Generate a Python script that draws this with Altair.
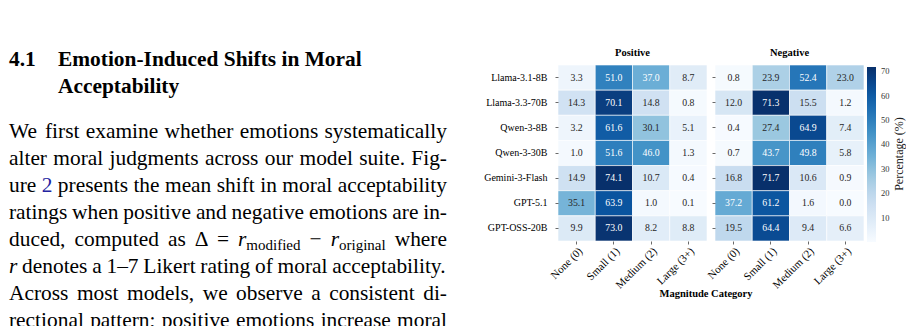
import re
import altair as alt
import numpy as np
import pandas as pd

SERIF = "Liberation Serif"

# ---------------- data ----------------
models = ["Llama-3.1-8B", "Llama-3.3-70B", "Qwen-3-8B", "Qwen-3-30B",
          "Gemini-3-Flash", "GPT-5.1", "GPT-OSS-20B"]
categories = ["None (0)", "Small (1)", "Medium (2)", "Large (3+)"]
positive_pct = [
    [3.3, 51.0, 37.0, 8.7],
    [14.3, 70.1, 14.8, 0.8],
    [3.2, 61.6, 30.1, 5.1],
    [1.0, 51.6, 46.0, 1.3],
    [14.9, 74.1, 10.7, 0.4],
    [35.1, 63.9, 1.0, 0.1],
    [9.9, 73.0, 8.2, 8.8],
]
negative_pct = [
    [0.8, 23.9, 52.4, 23.0],
    [12.0, 71.3, 15.5, 1.2],
    [0.4, 27.4, 64.9, 7.4],
    [0.7, 43.7, 49.8, 5.8],
    [16.8, 71.7, 10.6, 0.9],
    [37.2, 61.2, 1.6, 0.0],
    [19.5, 64.4, 9.4, 6.6],
]
panel_titles = ["Positive", "Negative"]
colorbar_ticks = [10, 20, 30, 40, 50, 60, 70]
x_axis_title = "Magnitude Category"
colorbar_title = "Percentage (%)"

section_number = "4.1"
section_title = ["Emotion-Induced Shifts in Moral", "Acceptability"]
body_lines = [
    "We first examine whether emotions systematically",
    "alter moral judgments across our model suite. Fig-",
    "ure [2] presents the mean shift in moral acceptability",
    "ratings when positive and negative emotions are in-",
    "duced, computed as Δ = *r*_modified_ − *r*_original_ where",
    "*r* denotes a 1–7 Likert rating of moral acceptability.",
    "Across most models, we observe a consistent di-",
    "rectional pattern; positive emotions increase moral",
]

BLUES = ["#f7fbff", "#deebf7", "#c6dbef", "#9ecae1", "#6baed6",
         "#4292c6", "#2171b5", "#08519c", "#08306b"]

# ---------------- text layout helpers (Times metrics, per 1000 em) ----------------
_W = {}
_W.update(dict(zip("ABCDEFGHIJKLMNOPQRSTUVWXYZ",
                   [722, 667, 667, 722, 611, 556, 722, 722, 333, 389, 722, 611, 889,
                    722, 722, 556, 722, 667, 556, 611, 722, 722, 944, 722, 722, 611])))
_W.update(dict(zip("abcdefghijklmnopqrstuvwxyz",
                   [444, 500, 444, 500, 444, 333, 500, 500, 278, 278, 500, 278, 778,
                    500, 500, 500, 500, 333, 389, 278, 500, 500, 722, 500, 500, 444])))
_W.update({c: 500 for c in "0123456789"})
_W.update({" ": 250, ",": 250, ".": 250, "-": 333, ";": 278, ":": 278, "(": 333,
           ")": 333, "%": 833, "–": 500, "Δ": 612, "=": 564, "−": 564})
_WI = {"r": 389}


def text_w(t, size, style="reg"):
    tab = _WI if style == "italic" else {}
    return sum(tab.get(c, _W.get(c, 500)) for c in t) * size / 1000.0


BODY_SIZE = 21.4
SUB_SIZE = 15
PANEL_TOP = 65
LEFT, RIGHT = 8, 446
FIRST_BASE, LINE_STEP = 137.5, 27.1

rows = []
for i, line in enumerate(body_lines):
    base_y = FIRST_BASE + LINE_STEP * i - PANEL_TOP
    toks = line.split(" ")
    tok_pieces = []
    for tok in toks:
        pieces = []
        for it, sub, blue, plain in re.findall(r"\*([^*]+)\*|_([^_]+)_|\[([^\]]+)\]|([^*_\[\]]+)", tok):
            if it:
                pieces.append((it, "italic", BODY_SIZE))
            elif sub:
                pieces.append((sub, "sub", SUB_SIZE))
            elif blue:
                pieces.append((blue, "blue", BODY_SIZE))
            else:
                pieces.append((plain, "reg", BODY_SIZE))
        tok_pieces.append(pieces)
    widths = [sum(text_w(t, s, st) for t, st, s in p) for p in tok_pieces]
    gap = (RIGHT - LEFT - sum(widths)) / (len(toks) - 1)
    x = LEFT
    for p, w in zip(tok_pieces, widths):
        px = x
        for t, st, s in p:
            rows.append({"text": t, "style": st, "x": px,
                         "y": base_y + (4.5 if st == "sub" else 0)})
            px += text_w(t, s, st)
        x += w + gap

rows.append({"text": section_number, "style": "bold", "x": 8, "y": 66 - PANEL_TOP})
rows.append({"text": section_title[0], "style": "bold", "x": 57, "y": 66 - PANEL_TOP})
rows.append({"text": section_title[1], "style": "bold", "x": 57, "y": 93 - PANEL_TOP})
text_df = pd.DataFrame(rows)


def text_layer(style, size, color="black", italic=False, bold=False, clip=True):
    mk = dict(align="left", baseline="alphabetic", font=SERIF, fontSize=size, color=color)
    if italic:
        mk["fontStyle"] = "italic"
    if bold:
        mk["fontWeight"] = "bold"
    if clip:
        mk["clip"] = True
    return (alt.Chart(text_df)
            .transform_filter(f"datum.style == '{style}'")
            .mark_text(**mk)
            .encode(x=alt.X("x:Q", scale=None, axis=None),
                    y=alt.Y("y:Q", scale=None, axis=None),
                    text="text:N"))


text_panel = alt.layer(
    text_layer("reg", BODY_SIZE),
    text_layer("italic", BODY_SIZE, italic=True),
    text_layer("sub", SUB_SIZE),
    text_layer("blue", BODY_SIZE, color="#2323a0"),
    text_layer("bold", BODY_SIZE, bold=True, clip=False),
).properties(width=549, height=261)

# ---------------- heatmaps ----------------
CELL_W, CELL_H = 149, 176


def heatmap(values, title, show_labels, legend, extra):
    df = pd.DataFrame([{"model": m, "cat": c, "pct": values[i][j]}
                       for i, m in enumerate(models) for j, c in enumerate(categories)])
    vmax = float(np.max(values))
    base = alt.Chart(df).encode(
        x=alt.X("cat:N", sort=categories,
                scale=alt.Scale(paddingInner=0, paddingOuter=0),
                axis=alt.Axis(title=None, labelAngle=-45, labelAlign="right",
                              labelBaseline="top", labelFont=SERIF, labelFontSize=11,
                              labelColor="black", tickSize=3, tickColor="#444",
                              tickWidth=0.8, domain=False, labelPadding=1)),
        y=alt.Y("model:N", sort=models,
                scale=alt.Scale(paddingInner=0, paddingOuter=0),
                axis=alt.Axis(title=None, labels=show_labels, labelFont=SERIF,
                              labelFontSize=10, labelColor="black", tickSize=3,
                              tickColor="#444", tickWidth=0.8, domain=False,
                              labelPadding=8)),
    )
    rect = base.mark_rect(stroke="white", strokeWidth=0.6).encode(
        color=alt.Color("pct:Q",
                        scale=alt.Scale(domain=list(np.linspace(0, vmax, len(BLUES))),
                                        range=BLUES),
                        legend=legend))
    txt = base.mark_text(font=SERIF, fontSize=9.8, baseline="middle").encode(
        text=alt.Text("pct:Q", format=".1f"),
        color=alt.condition("datum.pct > 36", alt.value("white"), alt.value("#262626")))
    return alt.layer(rect, txt, *extra).properties(
        width=CELL_W, height=CELL_H,
        title=alt.TitleParams(title, font=SERIF, fontSize=10.5, fontWeight="bold",
                              color="black", anchor="middle", frame="group", offset=6))


one = pd.DataFrame({"t": [x_axis_title]})
xtitle = alt.Chart(one).mark_text(font=SERIF, fontSize=10.5, fontWeight="bold",
                                  color="black", baseline="middle").encode(
    text="t:N", x=alt.value(148), y=alt.value(229))
one2 = pd.DataFrame({"t": [colorbar_title]})
ctitle = alt.Chart(one2).mark_text(font=SERIF, fontSize=12, color="#222",
                                   baseline="middle", angle=270).encode(
    text="t:N", x=alt.value(184), y=alt.value(89))

legend = alt.Legend(orient="none", legendX=152, legendY=2, direction="vertical",
                    gradientLength=175, gradientThickness=9, title=None,
                    values=colorbar_ticks, labelFont=SERIF, labelFontSize=8.5,
                    labelColor="#333", labelOffset=5, gradientStrokeWidth=0, padding=0)

pos = heatmap(positive_pct, panel_titles[0], True, None, [xtitle])
neg = heatmap(negative_pct, panel_titles[1], False, legend, [ctitle])

chart = (alt.hconcat(text_panel, pos, neg, spacing=8, bounds="flush")
         .resolve_scale(color="independent")
         .configure_view(stroke="transparent")
         .properties(padding={"left": 0, "top": 47, "right": 0, "bottom": 0},
                     background="white"))

chart.save("out.html", embed_options={"renderer": "svg", "actions": False})
